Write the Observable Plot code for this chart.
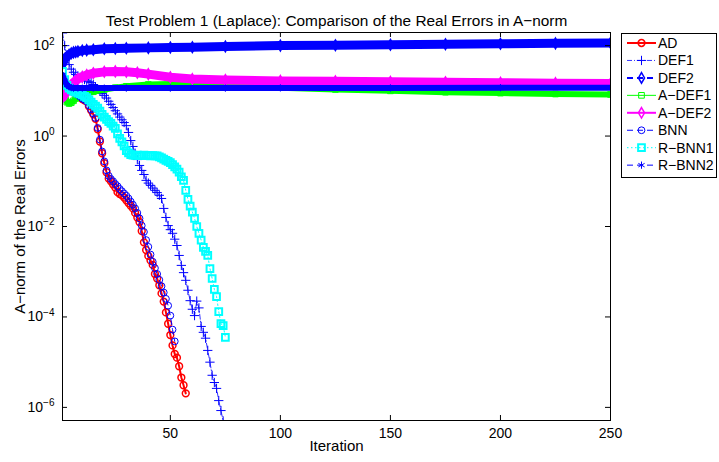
<!DOCTYPE html>
<html><head><meta charset="utf-8">
<script src="https://cdn.jsdelivr.net/npm/d3@7"></script>
<script src="https://cdn.jsdelivr.net/npm/@observablehq/plot@0.6"></script>
<style>
body{margin:0;background:#fff;}
#chart{width:719px;height:462px;}
svg{font-family:"Liberation Sans",Arial,Helvetica,sans-serif;}
</style></head><body><div id="chart"></div>
<script>
const titleText = "Test Problem 1 (Laplace): Comparison of the Real Errors in A\u2212norm";
const xLabel = "Iteration";
const yLabel = "A\u2212norm of the Real Errors";
const seriesNames = ["AD","DEF1","DEF2","A\u2212DEF1","A\u2212DEF2","BNN","R\u2212BNN1","R\u2212BNN2"];
const xTicks = [50,100,150,200,250];
const yTickExps = [2,0,-2,-4,-6];

// values are log10 of the A-norm error, one per iteration starting at 1
const AD_log = [1.25,1.15,1.08,1.04,1.00,0.97,0.94,0.90,0.86,0.82,0.79,0.76,0.66,0.57,0.48,0.38,0.15,-0.12,-0.38,-0.60,-0.80,-0.94,-1.00,-1.07,-1.14,-1.24,-1.28,-1.31,-1.36,-1.42,-1.48,-1.54,-1.60,-1.70,-1.80,-1.90,-2.10,-2.35,-2.52,-2.65,-2.75,-2.85,-3.05,-3.15,-3.30,-3.48,-3.66,-3.90,-4.15,-4.40,-4.63,-4.82,-4.90,-5.09,-5.34,-5.51,-5.69];
const DEF1_log = [2.28,2.00,1.75,1.58,1.48,1.41,1.36,1.33,1.30,1.27,1.25,1.22,1.20,1.18,1.14,1.09,1.04,0.99,0.94,0.90,0.84,0.77,0.70,0.63,0.56,0.49,0.42,0.36,0.30,0.23,0.08,-0.10,-0.23,-0.38,-0.52,-0.65,-0.76,-0.85,-0.98,-1.04,-1.09,-1.15,-1.20,-1.25,-1.31,-1.38,-1.60,-1.80,-1.98,-2.07,-2.15,-2.28,-2.42,-2.64,-2.86,-3.02,-3.19,-3.41,-3.64,-3.83,-3.97,-3.65,-3.80,-4.21,-4.34,-4.47,-4.74,-5.00,-5.29,-5.45,-5.58,-5.85,-6.07,-6.30];
const BNN_log = [1.26,1.16,1.09,1.05,1.01,0.98,0.95,0.91,0.87,0.83,0.80,0.77,0.68,0.59,0.50,0.40,0.18,-0.08,-0.34,-0.56,-0.76,-0.88,-0.95,-1.00,-1.06,-1.11,-1.17,-1.22,-1.27,-1.32,-1.38,-1.45,-1.52,-1.60,-1.70,-1.82,-1.98,-2.12,-2.30,-2.45,-2.62,-2.78,-2.92,-3.05,-3.18,-3.32,-3.46,-3.60,-3.75,-3.97,-4.28,-4.54];
const RBNN1_log = [1.43,1.25,1.12,1.06,1.02,0.99,0.97,0.95,0.93,0.91,0.88,0.85,0.80,0.75,0.70,0.66,0.62,0.55,0.48,0.42,0.37,0.32,0.28,0.22,0.17,0.05,-0.05,-0.13,-0.22,-0.32,-0.37,-0.41,-0.42,-0.43,-0.42,-0.43,-0.43,-0.42,-0.43,-0.43,-0.44,-0.43,-0.44,-0.44,-0.46,-0.48,-0.51,-0.54,-0.56,-0.59,-0.63,-0.68,-0.73,-0.80,-0.90,-0.98,-1.20,-1.40,-1.55,-1.68,-1.82,-2.00,-2.15,-2.30,-2.46,-2.55,-2.64,-2.93,-3.15,-3.39,-3.55,-3.88,-4.15,-4.19,-4.45];

// stagnating series: sampled iterations and log10 errors
const DEF2_it  = [1,2,3,4,5,6,7,8,10,12,15,20,25,30,40,50,60,75,100,125,150,175,200,225,250];
const DEF2_log = [1.60,1.70,1.76,1.80,1.83,1.85,1.86,1.87,1.89,1.90,1.91,1.93,1.935,1.94,1.95,1.96,1.965,1.98,2.00,2.01,2.02,2.03,2.04,2.05,2.06];
const ADEF1_it  = [1,2,3,4,5,6,7,8,10,12,15,20,25,30,40,50,60,75,100,125,150,175,200,225,250];
const ADEF1_log = [1.23,0.95,0.75,0.72,0.74,0.78,0.83,0.86,0.90,0.94,0.98,1.03,1.07,1.10,1.14,1.15,1.14,1.12,1.07,1.03,1.00,0.97,0.95,0.93,0.92];
const ADEF2_it  = [1,2,3,4,5,6,7,8,10,12,15,20,25,30,35,40,50,60,75,100,125,150,175,200,225,250];
const ADEF2_log = [0.85,0.92,1.00,1.07,1.13,1.18,1.22,1.26,1.31,1.35,1.39,1.42,1.43,1.42,1.40,1.37,1.30,1.26,1.24,1.22,1.21,1.20,1.19,1.18,1.17,1.16];
const RBNN2_it  = [1,2,3,4,5,6,8,10,15,20,30,50,75,100,150,200,250];
const RBNN2_log = [1.35,1.22,1.13,1.09,1.07,1.06,1.06,1.06,1.06,1.06,1.06,1.06,1.06,1.065,1.065,1.07,1.07];

const seq = arr => arr.map((v, i) => ({it: i + 1, err: 10 ** v}));
const pairs = (its, arr) => its.map((it, i) => ({it, err: 10 ** arr[i]}));

const series = [
  {name: seriesNames[0], data: seq(AD_log),   color: "#ff0000", lw: 2,   dash: null,        sym: "circle",   r: 3.4, mw: 1.5},
  {name: seriesNames[1], data: seq(DEF1_log), color: "#0000ff", lw: 0.8, dash: "5,2,1,2",   sym: "plus",     r: 3.1, mw: 1},
  {name: seriesNames[2], data: pairs(DEF2_it, DEF2_log), color: "#0000ff", lw: 2, dash: "6,4", sym: "diamond", r: 3.2, mw: 1.5, band: 9},
  {name: seriesNames[3], data: pairs(ADEF1_it, ADEF1_log), color: "#00ff00", lw: 1, dash: null, sym: "square", r: 3.2, mw: 1, band: 6},
  {name: seriesNames[4], data: pairs(ADEF2_it, ADEF2_log), color: "#ff00ff", lw: 2, dash: null, sym: "diamond", r: 3.2, mw: 1.5, band: 9},
  {name: seriesNames[5], data: seq(BNN_log),  color: "#0000ff", lw: 1,   dash: "6,4",       sym: "circle",   r: 3.4, mw: 1},
  {name: seriesNames[6], data: seq(RBNN1_log),color: "#00ffff", lw: 1,   dash: "1.5,2.5",   sym: "square",   r: 3.8, mw: 2},
  {name: seriesNames[7], data: pairs(RBNN2_it, RBNN2_log), color: "#0000ff", lw: 1, dash: "6,4", sym: "asterisk", r: 3.4, mw: 1, band: 6}
];

const marks = [];
for (const s of series) {
  if (s.band) marks.push(Plot.line(s.data, {x: "it", y: "err", stroke: s.color, strokeWidth: s.band, strokeLinejoin: "round", clip: true}));
  marks.push(Plot.line(s.data, {x: "it", y: "err", stroke: s.color, strokeWidth: s.lw, strokeDasharray: s.dash, clip: true}));
  marks.push(Plot.dot(s.data, {x: "it", y: "err", symbol: s.sym, r: s.r, stroke: s.color, fill: "none", strokeWidth: s.mw, clip: true}));
}

const yTickVals = yTickExps.map(e => 10 ** e);
const supMap = {"-": "\u207b", "0": "\u2070", "2": "\u00b2", "4": "\u2074", "6": "\u2076"};

const chart = Plot.plot({
  width: 719, height: 462,
  marginLeft: 62, marginRight: 109, marginTop: 32, marginBottom: 42,
  style: {fontSize: "14px", fontFamily: "'Liberation Sans', Arial, Helvetica, sans-serif", background: "white", color: "black"},
  x: {domain: [1, 250]},
  y: {type: "log", domain: [10 ** -6.29, 10 ** 2.29]},
  marks: [
    ...marks,
    Plot.frame({stroke: "black", strokeWidth: 1}),
    Plot.tickX(xTicks, {x: d => d, insetTop: 383, stroke: "black"}),
    Plot.tickX(xTicks, {x: d => d, insetBottom: 383, stroke: "black"}),
    Plot.tickY(yTickVals, {y: d => d, insetRight: 543, stroke: "black"}),
    Plot.tickY(yTickVals, {y: d => d, insetLeft: 543, stroke: "black"}),
    Plot.axisX({ticks: xTicks, tickSize: 0, tickPadding: 8, label: null, fontSize: 14}),
    Plot.axisY({ticks: yTickVals, tickSize: 0, tickPadding: 8, label: null, fontSize: 14,
      tickFormat: d => "10" + String(Math.round(Math.log10(d))).split("").map(c => supMap[c]).join("")}),
    Plot.text([titleText], {text: d => d, frameAnchor: "top", textAnchor: "middle", dy: -17, fontSize: 15.4}),
    Plot.text([xLabel], {text: d => d, frameAnchor: "bottom", textAnchor: "middle", dy: 30, fontSize: 15}),
    Plot.text([yLabel], {text: d => d, frameAnchor: "left", textAnchor: "middle", dx: -42, rotate: -90, fontSize: 15})
  ]
});
document.getElementById("chart").appendChild(chart);

// superscript exponents on y tick labels
const invSup = {"\u207b": "-", "\u2070": "0", "\u00b2": "2", "\u2074": "4", "\u2076": "6"};
d3.select(chart).selectAll('g[aria-label="y-axis tick label"] text').each(function() {
  const t = this.textContent;
  if (!t.startsWith("10")) return;
  const exp = t.slice(2).split("").map(c => invSup[c] ?? c).join("").replace("-", "\u2212");
  const el = d3.select(this);
  el.text("10");
  el.append("tspan").attr("dy", "-0.55em").attr("font-size", "10px").text(exp);
});

// legend
const symType = {circle: d3.symbolCircle, plus: d3.symbolPlus, diamond: d3.symbolDiamond, square: d3.symbolSquare, asterisk: d3.symbolAsterisk};
const lg = d3.select(chart).append("g").attr("text-anchor", "start");
lg.append("rect").attr("x", 621.5).attr("y", 33.5).attr("width", 95).attr("height", 144)
  .attr("fill", "white").attr("stroke", "black").attr("stroke-width", 1);
series.forEach((s, i) => {
  const y = 43 + i * 17.45;
  const g = lg.append("g").attr("transform", `translate(0,${y})`);
  g.append("line").attr("x1", 627).attr("x2", 656).attr("y1", 0).attr("y2", 0)
    .attr("stroke", s.color).attr("stroke-width", s.lw).attr("stroke-dasharray", s.dash);
  g.append("path").attr("transform", "translate(641.5,0)")
    .attr("d", d3.symbol().type(symType[s.sym]).size(Math.PI * s.r * s.r)())
    .attr("fill", "none").attr("stroke", s.color).attr("stroke-width", s.mw);
  g.append("text").attr("x", 658).attr("y", 0).attr("dy", "0.36em").attr("text-anchor", "start")
    .attr("font-size", 14).attr("fill", "black").text(s.name);
});
</script>
</body></html>
